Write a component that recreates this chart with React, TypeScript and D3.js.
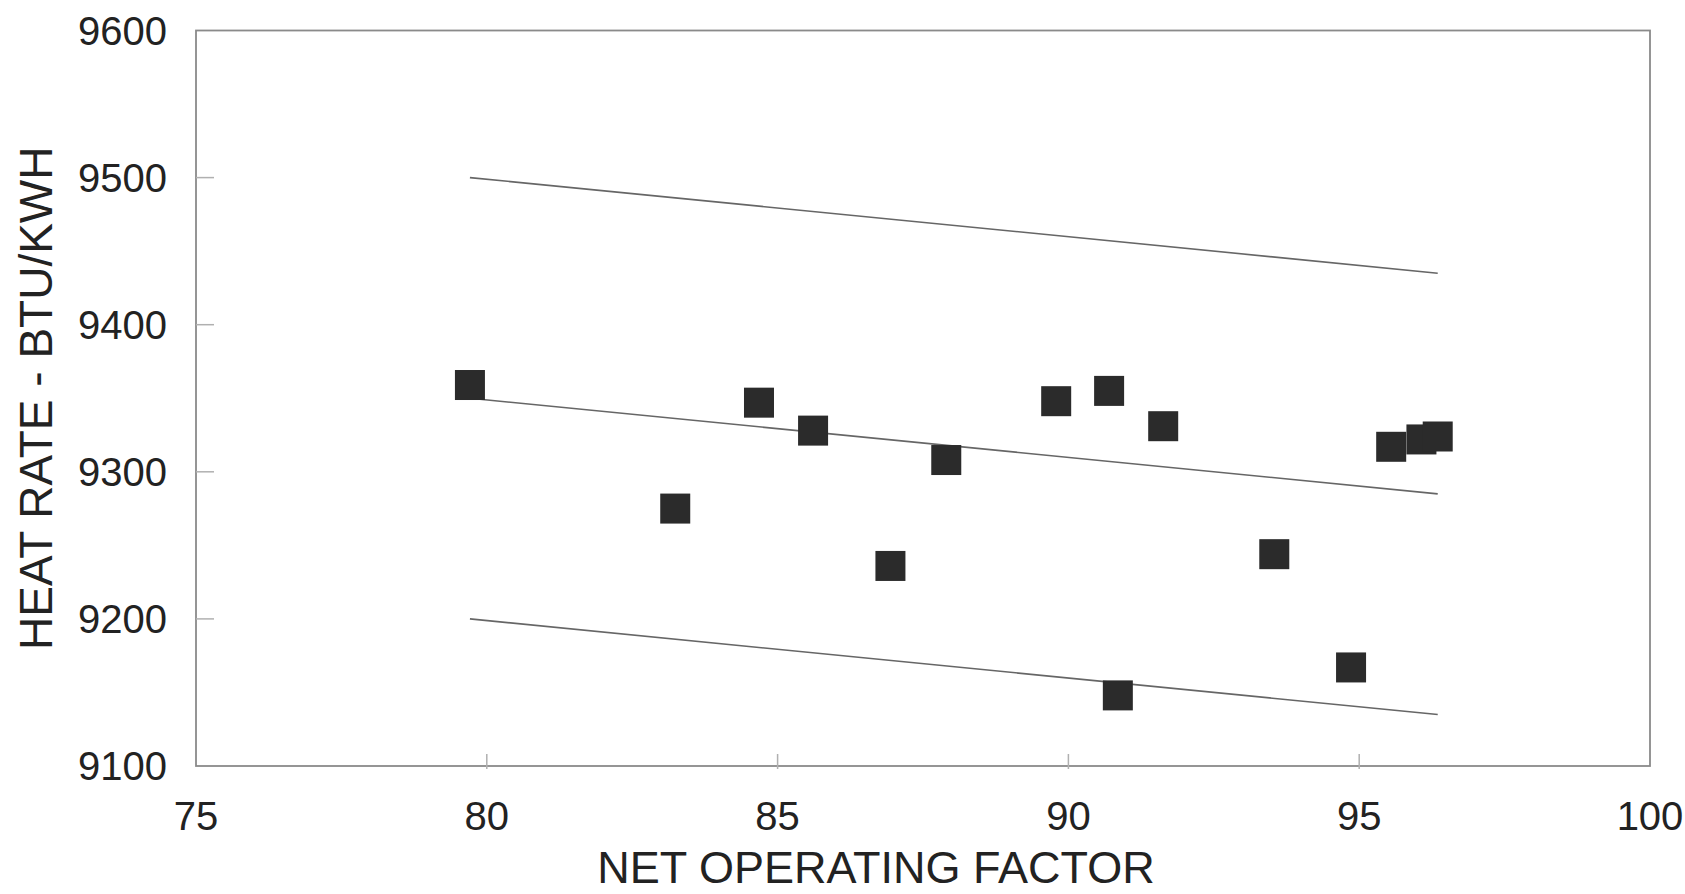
import React from "react";
import { scaleLinear, line } from "d3";

// scatter points: net operating factor vs heat rate
const operatingFactor = [79.71, 83.24, 84.68, 85.61, 86.94, 87.9, 89.79, 90.7, 90.85, 91.63, 93.54, 94.86, 95.55, 96.07, 96.35];
const heatRate = [9359, 9275, 9347, 9328, 9236, 9308, 9348, 9355, 9148, 9331, 9244, 9167, 9317, 9322, 9324];

// fitted line and +/- band, given by their end points
const fitX = [79.71, 96.35];
const fitMid = [9350, 9285];
const fitUpper = [9500, 9435];
const fitLower = [9200, 9135];

const xTicks = [75, 80, 85, 90, 95, 100];
const yTicks = [9100, 9200, 9300, 9400, 9500, 9600];

const width = 1685;
const height = 894;
const margin = { top: 30.5, right: 35, bottom: 128, left: 196 };
const font = "'Liberation Sans', Arial, sans-serif";

const App = () => {
	const x = scaleLinear().domain([75, 100]).range([margin.left, width - margin.right]);
	const y = scaleLinear().domain([9100, 9600]).range([height - margin.bottom, margin.top]);

	const path = line<[number, number]>()
		.x((d) => x(d[0]))
		.y((d) => y(d[1]));

	const bands = [fitUpper, fitMid, fitLower];
	const markerSize = 30;
	const x0 = x(75);
	const x1 = x(100);
	const y0 = y(9100);
	const y1 = y(9600);

	return (
		<svg
			width={width}
			height={height}
			style={{ position: "absolute", left: 0, top: 0, background: "#fff" }}
			fontFamily={font}
		>
			{/* frame */}
			<rect x={x0} y={y1} width={x1 - x0} height={y0 - y1} fill="none" stroke="#8a8a8a" strokeWidth={1.8} />

			{/* inward ticks */}
			{yTicks.slice(1, -1).map((t) => (
				<line key={"yt" + t} x1={x0} x2={x0 + 18} y1={y(t)} y2={y(t)} stroke="#b0b0b0" strokeWidth={1.5} />
			))}
			{xTicks.slice(1, -1).map((t) => (
				<line key={"xt" + t} x1={x(t)} x2={x(t)} y1={y0 + 3} y2={y0 - 12} stroke="#b0b0b0" strokeWidth={1.5} />
			))}

			{/* tick labels */}
			{yTicks.map((t) => (
				<text key={"yl" + t} x={x0 - 29} y={y(t)} dy="0.36em" textAnchor="end" fontSize={40} fill="#222">
					{t}
				</text>
			))}
			{xTicks.map((t) => (
				<text key={"xl" + t} x={x(t)} y={830} textAnchor="middle" fontSize={40} fill="#222">
					{t}
				</text>
			))}

			{/* axis titles */}
			<text x={(x0 + x1) / 2 - 47} y={883} textAnchor="middle" fontSize={45} fill="#222">
				NET OPERATING FACTOR
			</text>
			<text
				transform={`translate(52,${(y0 + y1) / 2}) rotate(-90)`}
				textAnchor="middle"
				fontSize={46}
				fill="#222"
			>
				HEAT RATE - BTU/KWH
			</text>

			{/* fit lines */}
			{bands.map((b, i) => (
				<path
					key={"band" + i}
					d={path([[fitX[0], b[0]], [fitX[1], b[1]]]) || ""}
					fill="none"
					stroke="#666"
					strokeWidth={1.6}
				/>
			))}

			{/* points */}
			{operatingFactor.map((v, i) => (
				<rect
					key={"pt" + i}
					x={x(v) - markerSize / 2}
					y={y(heatRate[i]) - markerSize / 2}
					width={markerSize}
					height={markerSize}
					fill="#2b2b2b"
				/>
			))}
		</svg>
	);
};

export default App;
